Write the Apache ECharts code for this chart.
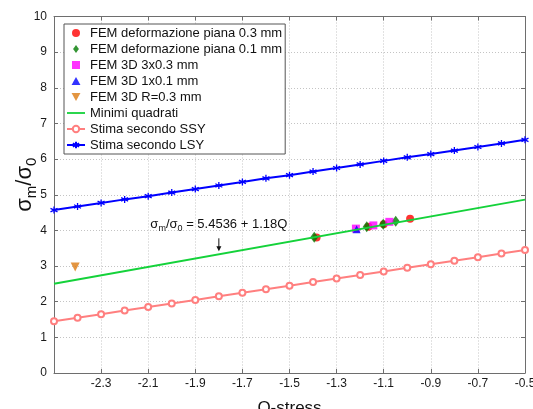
<!DOCTYPE html>
<html>
<head>
<meta charset="utf-8">
<script src="https://cdn.jsdelivr.net/npm/echarts@6/dist/echarts.min.js"></script>
<style>
  html, body { margin: 0; padding: 0; background: #fff; }
  #chart { width: 533px; height: 409px; }
</style>
</head>
<body>
<div id="chart"></div>
<script>
// Q-stress sample points of the two analytical estimates
const qSamples = [-2.5, -2.4, -2.3, -2.2, -2.1, -2.0, -1.9, -1.8, -1.7, -1.6, -1.5,
                  -1.4, -1.3, -1.2, -1.1, -1.0, -0.9, -0.8, -0.7, -0.6, -0.5];
const stimaSSY = [1.45, 1.55, 1.65, 1.75, 1.85, 1.95, 2.05, 2.15, 2.25, 2.35, 2.45,
                  2.55, 2.65, 2.75, 2.85, 2.95, 3.05, 3.15, 3.25, 3.35, 3.45];
const stimaLSY = [4.57, 4.67, 4.77, 4.87, 4.96, 5.06, 5.16, 5.26, 5.36, 5.46, 5.55,
                  5.65, 5.75, 5.85, 5.95, 6.05, 6.14, 6.24, 6.34, 6.44, 6.54];

// least-squares fit: sigma_m/sigma_0 = 5.4536 + 1.18 Q
const fitIntercept = 5.4536;
const fitSlope = 1.18;
const fitQ = [-2.5, -0.5];
const fitValues = [2.5036, 4.8636];
const fitNoteQ = -1.8;

// FEM results
const piana03Q = [-1.385, -1.165, -1.100, -0.988];
const piana03 = [3.80, 4.10, 4.17, 4.33];
const piana01Q = [-1.395, -1.172, -1.102, -1.049];
const piana01 = [3.81, 4.10, 4.17, 4.26];
const fem3x03Q = [-1.218, -1.144, -1.076];
const fem3x03 = [4.05, 4.14, 4.24];
const fem1x01Q = [-1.215];
const fem1x01 = [4.03];
const femR03Q = [-2.41];
const femR03 = [2.97];

const seriesNames = [
  'FEM deformazione piana 0.3 mm',
  'FEM deformazione piana 0.1 mm',
  'FEM 3D 3x0.3 mm',
  'FEM 3D 1x0.1 mm',
  'FEM 3D R=0.3 mm',
  'Minimi quadrati',
  'Stima secondo SSY',
  'Stima secondo LSY'
];

const pairs = (xs, ys) => xs.map((x, i) => [x, ys[i]]);

const FONT = '"Liberation Sans", Arial, Helvetica, sans-serif';
const AXIS_COLOR = '#6e6e6e';
const GRID_COLOR = '#c4c4c4';
// marker shapes as paths so they keep their proportions in the legend too
const ASTERISK = 'path://M5,0L5,10M0.7,2.5L9.3,7.5M0.7,7.5L9.3,2.5';
const DIAMOND = 'path://M4,0L8,5.5L4,11L0,5.5Z';
const SQUARE = 'path://M0,0L8,0L8,8L0,8Z';
const TRI_UP = 'path://M5,0L10,9L0,9Z';
const TRI_DOWN = 'path://M0,0L10,0L5,9Z';
const LINE_ICON = 'path://M0,0L20,0L20,2L0,2Z';

const chart = echarts.init(document.getElementById('chart'), null, { renderer: 'canvas' });

const tickCommon = { show: true, inside: true, length: 4, lineStyle: { color: AXIS_COLOR } };

const option = {
  backgroundColor: '#fff',
  animation: false,
  textStyle: { fontFamily: FONT },
  grid: { left: 54, right: 8, top: 16.5, bottom: 36, containLabel: false, outerBoundsMode: 'none' },
  legend: {
    orient: 'vertical',
    left: 64,
    top: 24,
    padding: [1, 3, 1, 2],
    itemWidth: 18,
    itemHeight: 8,
    itemGap: 0,
    backgroundColor: '#fff',
    borderColor: '#555',
    borderWidth: 1,
    borderRadius: 0,
    textStyle: { fontFamily: FONT, fontSize: 13, color: '#111', lineHeight: 16 },
    data: [
      seriesNames[0], seriesNames[1], seriesNames[2], seriesNames[3], seriesNames[4],
      { name: seriesNames[5], icon: LINE_ICON },
      seriesNames[6], seriesNames[7]
    ]
  },
  xAxis: [
    {
      type: 'value', min: -2.5, max: -0.5, interval: 0.2, position: 'bottom',
      axisLine: { show: true, onZero: false, lineStyle: { color: AXIS_COLOR } },
      axisTick: tickCommon,
      axisLabel: {
        showMinLabel: false, color: '#1a1a1a', fontSize: 12, margin: 5, fontFamily: FONT,
        formatter: v => v.toFixed(1)
      },
      splitLine: { show: true, lineStyle: { color: GRID_COLOR, type: [1, 2] } },
      name: 'Q-stress', nameLocation: 'middle', nameGap: 27, nameMoveOverlap: false,
      nameTextStyle: { fontSize: 17, color: '#111', verticalAlign: 'top', fontFamily: FONT }
    },
    {
      type: 'value', min: -2.5, max: -0.5, interval: 0.2, position: 'top',
      axisLine: { show: true, onZero: false, lineStyle: { color: AXIS_COLOR } },
      axisTick: tickCommon, axisLabel: { show: false }, splitLine: { show: false }
    }
  ],
  yAxis: [
    {
      type: 'value', min: 0, max: 10, interval: 1, position: 'left',
      axisLine: { show: true, onZero: false, lineStyle: { color: AXIS_COLOR } },
      axisTick: tickCommon,
      axisLabel: { color: '#1a1a1a', fontSize: 12, margin: 7, fontFamily: FONT },
      splitLine: { show: true, lineStyle: { color: GRID_COLOR, type: [1, 2] } },
      name: '{a|σ}{b|m}{a|/σ}{b|0}', nameLocation: 'middle', nameGap: 15, nameRotate: 90,
      nameMoveOverlap: false,
      nameTextStyle: {
        color: '#111', fontFamily: FONT, padding: [0, 0, 0, 20],
        rich: {
          a: { fontSize: 22, fontFamily: FONT, color: '#111' },
          b: { fontSize: 15, fontFamily: FONT, color: '#111', padding: [13, 0, 0, 0] }
        }
      }
    },
    {
      type: 'value', min: 0, max: 10, interval: 1, position: 'right',
      axisLine: { show: true, onZero: false, lineStyle: { color: AXIS_COLOR } },
      axisTick: tickCommon, axisLabel: { show: false }, splitLine: { show: false }
    }
  ],
  series: [
    {
      name: seriesNames[0], type: 'scatter', data: pairs(piana03Q, piana03),
      symbol: 'circle', symbolSize: 8, itemStyle: { color: '#ff0000' }
    },
    {
      name: seriesNames[1], type: 'scatter', data: pairs(piana01Q, piana01),
      symbol: DIAMOND, symbolSize: [8, 11], itemStyle: { color: '#007a00' }
    },
    {
      name: seriesNames[2], type: 'scatter', data: pairs(fem3x03Q, fem3x03),
      symbol: SQUARE, symbolSize: 8, itemStyle: { color: '#ff00ff' }
    },
    {
      name: seriesNames[3], type: 'scatter', data: pairs(fem1x01Q, fem1x01),
      symbol: TRI_UP, symbolSize: 8, itemStyle: { color: '#0000ff' }
    },
    {
      name: seriesNames[4], type: 'scatter', data: pairs(femR03Q, femR03),
      symbol: TRI_DOWN, symbolSize: 9, itemStyle: { color: '#dc7a12' }
    },
    {
      name: seriesNames[5], type: 'line', data: pairs(fitQ, fitValues),
      symbol: 'none', lineStyle: { color: '#14d23a', width: 2 }, itemStyle: { color: '#14d23a' }
    },
    {
      name: seriesNames[6], type: 'line', data: pairs(qSamples, stimaSSY),
      symbol: 'emptyCircle', symbolSize: 6, showSymbol: true,
      lineStyle: { color: '#ff7f7f', width: 2 },
      itemStyle: { color: '#ff7f7f', borderColor: '#ff7f7f', borderWidth: 1.5 }
    },
    {
      name: seriesNames[7], type: 'line', data: pairs(qSamples, stimaLSY),
      symbol: ASTERISK, symbolSize: 7, showSymbol: true,
      lineStyle: { color: '#0000ff', width: 2 },
      itemStyle: { color: '#0000ff', borderColor: '#0000ff', borderWidth: 1.3 }
    }
  ]
};

chart.setOption(option);

// annotation of the fitted line with a downward arrow
const noteValue = fitIntercept + fitSlope * fitNoteQ;
const p = chart.convertToPixel({ xAxisIndex: 0, yAxisIndex: 0 }, [fitNoteQ, noteValue]);
const tipY = p[1] - 3;
const tailY = p[1] - 16;
chart.setOption({
  graphic: [
    {
      type: 'text', x: p[0], y: p[1] - 30, z: 100,
      style: {
        text: '{a|σ}{b|m}{a|/σ}{b|0}{a| = ' + fitIntercept.toFixed(4) + ' + ' + fitSlope.toFixed(2) + 'Q}',
        align: 'center', verticalAlign: 'middle',
        rich: {
          a: { fontSize: 13, fontFamily: FONT, fill: '#111' },
          b: { fontSize: 9, fontFamily: FONT, fill: '#111', padding: [8, 0, 0, 0] }
        }
      }
    },
    {
      type: 'line', z: 100,
      shape: { x1: p[0], y1: tailY, x2: p[0], y2: tipY - 2 },
      style: { stroke: '#111', lineWidth: 1 }
    },
    {
      type: 'polygon', z: 100,
      shape: { points: [[p[0] - 2.5, tipY - 5], [p[0] + 2.5, tipY - 5], [p[0], tipY]] },
      style: { fill: '#111' }
    }
  ]
});
</script>
</body>
</html>
